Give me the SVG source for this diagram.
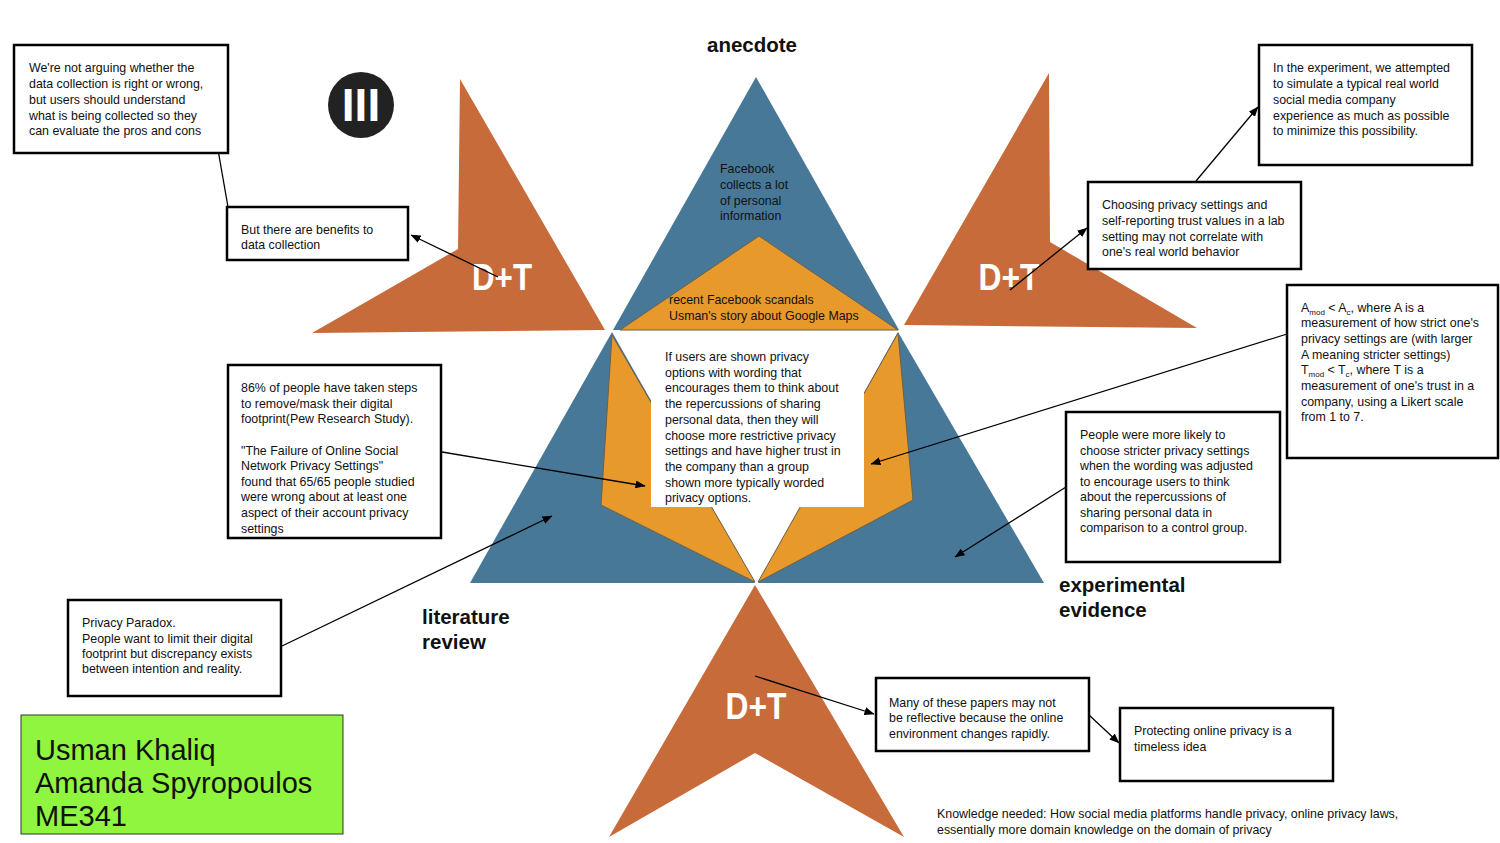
<svg xmlns="http://www.w3.org/2000/svg" width="1500" height="843" viewBox="0 0 1500 843">
<style>
.t{font-family:"Liberation Sans",Arial,sans-serif;font-size:12.4px;fill:#111}
.h{font-family:"Liberation Sans",Arial,sans-serif;font-size:20.5px;font-weight:bold;fill:#111}
.dt{font-family:"Liberation Sans",Arial,sans-serif;font-size:36px;font-weight:bold;fill:#fff}
.box{fill:#fff;stroke:#000;stroke-width:2.5}
.blue{fill:#487898}
.org{fill:#e8992b;stroke:#6e5f48;stroke-width:1}
.dtf{fill:#c86b3b}
.c{stroke:#000;stroke-width:1.3;fill:none;marker-end:url(#ah)}
</style>
<defs>
<marker id="ah" markerWidth="10" markerHeight="8" refX="9.5" refY="4" orient="auto" markerUnits="userSpaceOnUse"><path d="M0,0 L10,4 L0,8 z" fill="#000"/></marker>
</defs>
<rect width="1500" height="843" fill="#fff"/>

<g id="dt-topleft">
<polygon class="dtf" points="460,79 458,249 312,333 605,330"/>
<text class="dt" x="502" y="290" text-anchor="middle" textLength="60" lengthAdjust="spacingAndGlyphs">D+T</text>
</g>
<g id="dt-topright">
<polygon class="dtf" points="1049,73 1050,242 1197,328 904,325"/>
<text class="dt" x="1009" y="290" text-anchor="middle" textLength="61" lengthAdjust="spacingAndGlyphs">D+T</text>
</g>
<g id="dt-bottom">
<polygon class="dtf" points="755,585 609,837 755,753 904,837"/>
<text class="dt" x="756" y="719" text-anchor="middle" textLength="61" lengthAdjust="spacingAndGlyphs">D+T</text>
</g>

<g id="logo">
<circle cx="361" cy="105" r="33" fill="#222"/>
<text x="361" y="121" text-anchor="middle" font-family="Liberation Sans,Arial,sans-serif" font-size="46" font-weight="bold" fill="#fff">III</text>
</g>

<g id="anecdote">
<polygon class="blue" points="756,77 613,330 899,330"/>
<polygon class="org" points="759,236 620,330 898,330"/>
<text class="h" x="752" y="52" text-anchor="middle">anecdote</text>
<text class="t" x="720" y="173">Facebook</text>
<text class="t" x="720" y="189">collects a lot</text>
<text class="t" x="720" y="204.5">of personal</text>
<text class="t" x="720" y="220">information</text>
<text class="t" x="669" y="304">recent Facebook scandals</text>
<text class="t" x="669" y="320">Usman's story about Google Maps</text>
</g>

<g id="literature-review">
<polygon class="blue" points="612,332 470,583 755,583"/>
<polygon class="org" points="612,335 601,505 755,582"/>
<text class="h" x="422" y="624">literature</text>
<text class="h" x="422" y="649">review</text>
</g>

<g id="experimental-evidence">
<polygon class="blue" points="898,332 758,583 1044,583"/>
<polygon class="org" points="898,333 913,500 758,582"/>
<text class="h" x="1059" y="592">experimental</text>
<text class="h" x="1059" y="617">evidence</text>
</g>

<g id="hypothesis">
<rect x="651" y="333" width="213" height="174" fill="#fff"/>
<text class="t" x="665" y="361">If users are shown privacy</text>
<text class="t" x="665" y="376.7">options with wording that</text>
<text class="t" x="665" y="392.4">encourages them to think about</text>
<text class="t" x="665" y="408.1">the repercussions of sharing</text>
<text class="t" x="665" y="423.8">personal data, then they will</text>
<text class="t" x="665" y="439.5">choose more restrictive privacy</text>
<text class="t" x="665" y="455.2">settings and have higher trust in</text>
<text class="t" x="665" y="470.9">the company than a group</text>
<text class="t" x="665" y="486.6">shown more typically worded</text>
<text class="t" x="665" y="502.3">privacy options.</text>
</g>

<g id="connectors">
<line class="c" x1="228" y1="207" x2="217" y2="144"/>
<line class="c" x1="498" y1="277" x2="411" y2="235"/>
<line class="c" x1="1010" y1="290" x2="1087" y2="228"/>
<line class="c" x1="1196" y1="181" x2="1258" y2="107"/>
<line class="c" x1="1287" y1="334" x2="871" y2="464"/>
<line class="c" x1="1066" y1="487" x2="955" y2="557"/>
<line class="c" x1="442" y1="452" x2="645" y2="486"/>
<line class="c" x1="282" y1="646" x2="552" y2="516"/>
<line class="c" x1="755" y1="676" x2="874" y2="714"/>
<line class="c" x1="1089" y1="715" x2="1119" y2="743"/>
</g>

<g id="box-not-arguing">
<rect class="box" x="14" y="45" width="214" height="108"/>
<text class="t" x="29" y="72">We're not arguing whether the</text>
<text class="t" x="29" y="88">data collection is right or wrong,</text>
<text class="t" x="29" y="104">but users should understand</text>
<text class="t" x="29" y="119.5">what is being collected so they</text>
<text class="t" x="29" y="135">can evaluate the pros and cons</text>
</g>

<g id="box-benefits">
<rect class="box" x="227" y="207" width="181" height="53"/>
<text class="t" x="241" y="234">But there are benefits to</text>
<text class="t" x="241" y="249">data collection</text>
</g>

<g id="box-lab-setting">
<rect class="box" x="1088" y="182" width="213" height="87"/>
<text class="t" x="1102" y="209">Choosing privacy settings and</text>
<text class="t" x="1102" y="225">self-reporting trust values in a lab</text>
<text class="t" x="1102" y="240.5">setting may not correlate with</text>
<text class="t" x="1102" y="256">one's real world behavior</text>
</g>

<g id="box-experiment">
<rect class="box" x="1259" y="45" width="213" height="120"/>
<text class="t" x="1273" y="72">In the experiment, we attempted</text>
<text class="t" x="1273" y="88">to simulate a typical real world</text>
<text class="t" x="1273" y="104">social media company</text>
<text class="t" x="1273" y="119.5">experience as much as possible</text>
<text class="t" x="1273" y="135">to minimize this possibility.</text>
</g>

<g id="box-measures">
<rect class="box" x="1287" y="285" width="211" height="173"/>
<text class="t" x="1301" y="312">A<tspan font-size="8" dy="3">mod</tspan><tspan dy="-3"> &lt; A</tspan><tspan font-size="8" dy="3">c</tspan><tspan dy="-3">, where A is a</tspan></text>
<text class="t" x="1301" y="327">measurement of how strict one's</text>
<text class="t" x="1301" y="343">privacy settings are (with larger</text>
<text class="t" x="1301" y="359">A meaning stricter settings)</text>
<text class="t" x="1301" y="374">T<tspan font-size="8" dy="3">mod</tspan><tspan dy="-3"> &lt; T</tspan><tspan font-size="8" dy="3">c</tspan><tspan dy="-3">, where T is a</tspan></text>
<text class="t" x="1301" y="390">measurement of one's trust in a</text>
<text class="t" x="1301" y="406">company, using a Likert scale</text>
<text class="t" x="1301" y="421">from 1 to 7.</text>
</g>

<g id="box-results">
<rect class="box" x="1066" y="412" width="214" height="150"/>
<text class="t" x="1080" y="439">People were more likely to</text>
<text class="t" x="1080" y="454.5">choose stricter privacy settings</text>
<text class="t" x="1080" y="470">when the wording was adjusted</text>
<text class="t" x="1080" y="485.5">to encourage users to think</text>
<text class="t" x="1080" y="501">about the repercussions of</text>
<text class="t" x="1080" y="517">sharing personal data in</text>
<text class="t" x="1080" y="532">comparison to a control group.</text>
</g>

<g id="box-literature">
<rect class="box" x="228" y="365" width="213" height="173"/>
<text class="t" x="241" y="392">86% of people have taken steps</text>
<text class="t" x="241" y="408">to remove/mask their digital</text>
<text class="t" x="241" y="423">footprint(Pew Research Study).</text>
<text class="t" x="241" y="455">"The Failure of Online Social</text>
<text class="t" x="241" y="470">Network Privacy Settings"</text>
<text class="t" x="241" y="486">found that 65/65 people studied</text>
<text class="t" x="241" y="501">were wrong about at least one</text>
<text class="t" x="241" y="517">aspect of their account privacy</text>
<text class="t" x="241" y="533">settings</text>
</g>

<g id="box-paradox">
<rect class="box" x="68" y="600" width="213" height="96"/>
<text class="t" x="82" y="627">Privacy Paradox.</text>
<text class="t" x="82" y="642.5">People want to limit their digital</text>
<text class="t" x="82" y="658">footprint but discrepancy exists</text>
<text class="t" x="82" y="673">between intention and reality.</text>
</g>

<g id="box-papers">
<rect class="box" x="876" y="678" width="213" height="73"/>
<text class="t" x="889" y="706.5">Many of these papers may not</text>
<text class="t" x="889" y="722">be reflective because the online</text>
<text class="t" x="889" y="737.5">environment changes rapidly.</text>
</g>

<g id="box-timeless">
<rect class="box" x="1120" y="708" width="213" height="73"/>
<text class="t" x="1134" y="735">Protecting online privacy is a</text>
<text class="t" x="1134" y="751">timeless idea</text>
</g>

<g id="knowledge">
<text class="t" x="937" y="817.5">Knowledge needed: How social media platforms handle privacy, online privacy laws,</text>
<text class="t" x="937" y="833.5">essentially more domain knowledge on the domain of privacy</text>
</g>

<g id="authors">
<rect x="21" y="715" width="322" height="119" fill="#8ff53e" stroke="#333" stroke-width="1"/>
<text x="35" y="760" font-family="Liberation Sans,Arial,sans-serif" font-size="29" fill="#111">Usman Khaliq</text>
<text x="35" y="793" font-family="Liberation Sans,Arial,sans-serif" font-size="29" fill="#111">Amanda Spyropoulos</text>
<text x="35" y="826" font-family="Liberation Sans,Arial,sans-serif" font-size="29" fill="#111">ME341</text>
</g>
</svg>
